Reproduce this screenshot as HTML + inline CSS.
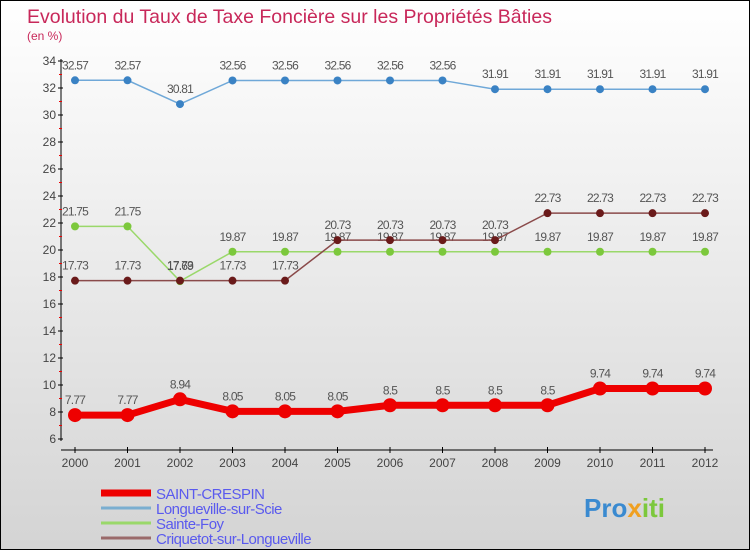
<!DOCTYPE html>
<html><head><meta charset="utf-8"><style>
body{margin:0}
#c{position:relative;width:748px;height:548px;border:1px solid #000;background:linear-gradient(#fff,#d4d4d4);font-family:"Liberation Sans",sans-serif;overflow:hidden}
</style></head><body>
<div id="c">
<svg id="s" width="748" height="548"></svg>
</div>
<script>
const years=["2000","2001","2002","2003","2004","2005","2006","2007","2008","2009","2010","2011","2012"];
const yTicks=[6,8,10,12,14,16,18,20,22,24,26,28,30,32,34];
const saintCrespin=[7.77,7.77,8.94,8.05,8.05,8.05,8.5,8.5,8.5,8.5,9.74,9.74,9.74];
const longueville=[32.57,32.57,30.81,32.56,32.56,32.56,32.56,32.56,31.91,31.91,31.91,31.91,31.91];
const sainteFoy=[21.75,21.75,17.69,19.87,19.87,19.87,19.87,19.87,19.87,19.87,19.87,19.87,19.87];
const criquetot=[17.73,17.73,17.73,17.73,17.73,20.73,20.73,20.73,20.73,22.73,22.73,22.73,22.73];
const NS="http://www.w3.org/2000/svg";
const s=document.getElementById('s');
const X=i=>74+i*52.5, Y=v=>438-(v-6)*(378/28);
function el(t,a,txt){const e=document.createElementNS(NS,t);for(const k in a)e.setAttribute(k,a[k]);if(txt!=null)e.textContent=txt;s.appendChild(e);return e;}
let e;
e=el('text',{x:26,y:22,fill:'#c8285a','font-size':19.5},'Evolution du Taux de Taxe Foncière sur les Propriétés Bâties');


e=el('text',{x:26,y:39,fill:'#c8285a','font-size':12},'(en %)');


e=el('line',{x1:60,y1:58,x2:60,y2:440,stroke:'#000'});


e=el('line',{x1:60,y1:449,x2:712,y2:449,stroke:'#000'});


yTicks.forEach(v=>{
  el('line',{x1:57,y1:Y(v),x2:62,y2:Y(v),stroke:'#000'});
  if(v<34){el('line',{x1:58,y1:Y(v+1),x2:61,y2:Y(v+1),stroke:'#e00'});}
  e=el('text',{x:55,y:Y(v)+4,'text-anchor':'end','font-size':12,fill:'#444'},v);
  
  
});
years.forEach((y,i)=>{
  el('line',{x1:X(i),y1:446,x2:X(i),y2:452,stroke:'#000'});
  e=el('text',{x:X(i),y:466,'text-anchor':'middle','font-size':12,fill:'#444'},y);
  
  
});
function series(d,color,w,r,name,dot){
  const p=el('polyline',{points:d.map((v,i)=>X(i)+','+Y(v)).join(' '),fill:'none',stroke:color,'stroke-width':w});
  
  
  d.forEach((v,i)=>{
    const c=el('circle',{cx:X(i),cy:Y(v),r:r,fill:dot});
    
    
    const t=el('text',{x:X(i),y:Y(v)-11,'text-anchor':'middle','font-size':12,fill:'#555','letter-spacing':'-0.8'},v);
    
    
  });
}
series(longueville,'#6fa8d8',1.5,4,'longueville','#3a82c4');
series(sainteFoy,'#9ad86a',1.5,4,'sainte-foy','#7cc83c');
series(criquetot,'#8a4a4a',1.5,4,'criquetot','#6a1a1a');
series(saintCrespin,'#e00',7,7,'saint-crespin','#e00');
const legend=[["SAINT-CRESPIN","#e00",7],["Longueville-sur-Scie","#7aaed0",3],["Sainte-Foy","#9ad86a",3],["Criquetot-sur-Longueville","#9a6a6a",3]];
legend.forEach((l,i)=>{
  const y=492+i*15;
  e=el('line',{x1:100,y1:y,x2:150,y2:y,stroke:l[1],'stroke-width':l[2]});
  
  
  e=el('text',{x:155,y:y+6,'font-size':15,fill:'#5a5aee','letter-spacing':'-0.5'},l[0]);
  
  
});
e=el('text',{x:583,y:516,'font-size':26,'font-weight':'bold',fill:'#3a8ad0'});


e.innerHTML='<tspan>Pro</tspan><tspan fill="#f0a020">x</tspan><tspan fill="#7cc83c">iti</tspan>';
</script>
</body></html>
